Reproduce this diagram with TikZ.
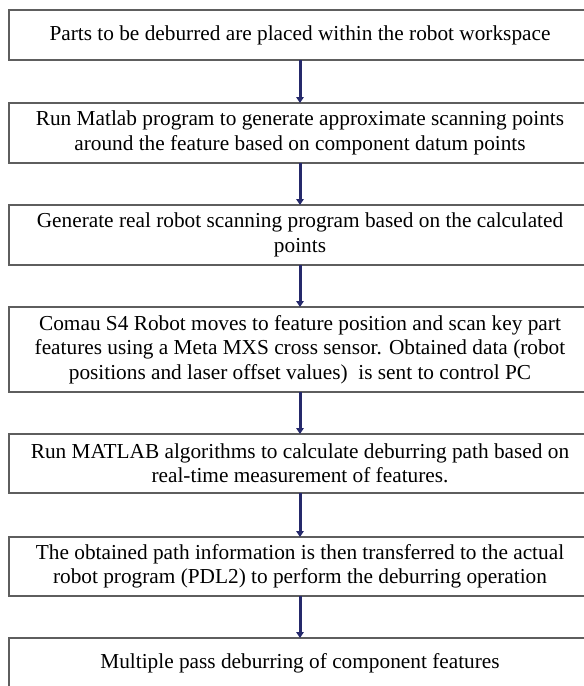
\documentclass[tikz,border=0pt]{standalone}
\usepackage{fontspec}
\setmainfont{Liberation Serif}
\usetikzlibrary{arrows.meta}
\definecolor{boxline}{HTML}{5E5E5E}
\definecolor{flowarrow}{HTML}{25296B}
\tikzset{
  stepbox/.style={draw=boxline, line width=1.3pt, rectangle, inner sep=0pt, outer sep=0pt,
    minimum width=582pt, align=center, font=\fontsize{21.3}{24.5}\selectfont},
  flow/.style={draw=flowarrow, line width=3pt, -{Triangle[length=6pt,width=7.5pt]}}
}
\begin{document}
\begin{tikzpicture}[x=1pt,y=1pt]
  \useasboundingbox (0,0) rectangle (584,-686);
  \clip (0,0) rectangle (584,-686);
  \fill[white] (0,0) rectangle (584,-686);

  \node[stepbox, minimum height=50pt] (b1) at (300,-35)
    {Parts to be deburred are placed within the robot workspace};
  \node[stepbox, minimum height=60pt] (b2) at (300,-133)
    {Run Matlab program to generate approximate scanning points\\around the feature based on component datum points};
  \node[stepbox, minimum height=60pt] (b3) at (300,-235)
    {Generate real robot scanning program based on the calculated\\points};
  \node[stepbox, minimum height=85pt] (b4) at (300,-349.5)
    {Comau S4 Robot moves to feature position and scan key part\\features using a Meta MXS cross sensor. Obtained data (robot\\positions and laser offset values)\ \ is sent to control PC};
  \node[stepbox, minimum height=59pt] (b5) at (300,-463.5)
    {Run MATLAB algorithms to calculate deburring path based on\\real-time measurement of features.};
  \node[stepbox, minimum height=59pt] (b6) at (300,-566.5)
    {The obtained path information is then transferred to the actual\\robot program (PDL2) to perform the deburring operation};
  \node[stepbox, minimum height=50pt] (b7) at (300,-663)
    {Multiple pass deburring of component features};

  \draw[flow] (b1.south) -- (b2.north);
  \draw[flow] (b2.south) -- (b3.north);
  \draw[flow] (b3.south) -- (b4.north);
  \draw[flow] (b4.south) -- (b5.north);
  \draw[flow] (b5.south) -- (b6.north);
  \draw[flow] (b6.south) -- (b7.north);
\end{tikzpicture}
\end{document}
